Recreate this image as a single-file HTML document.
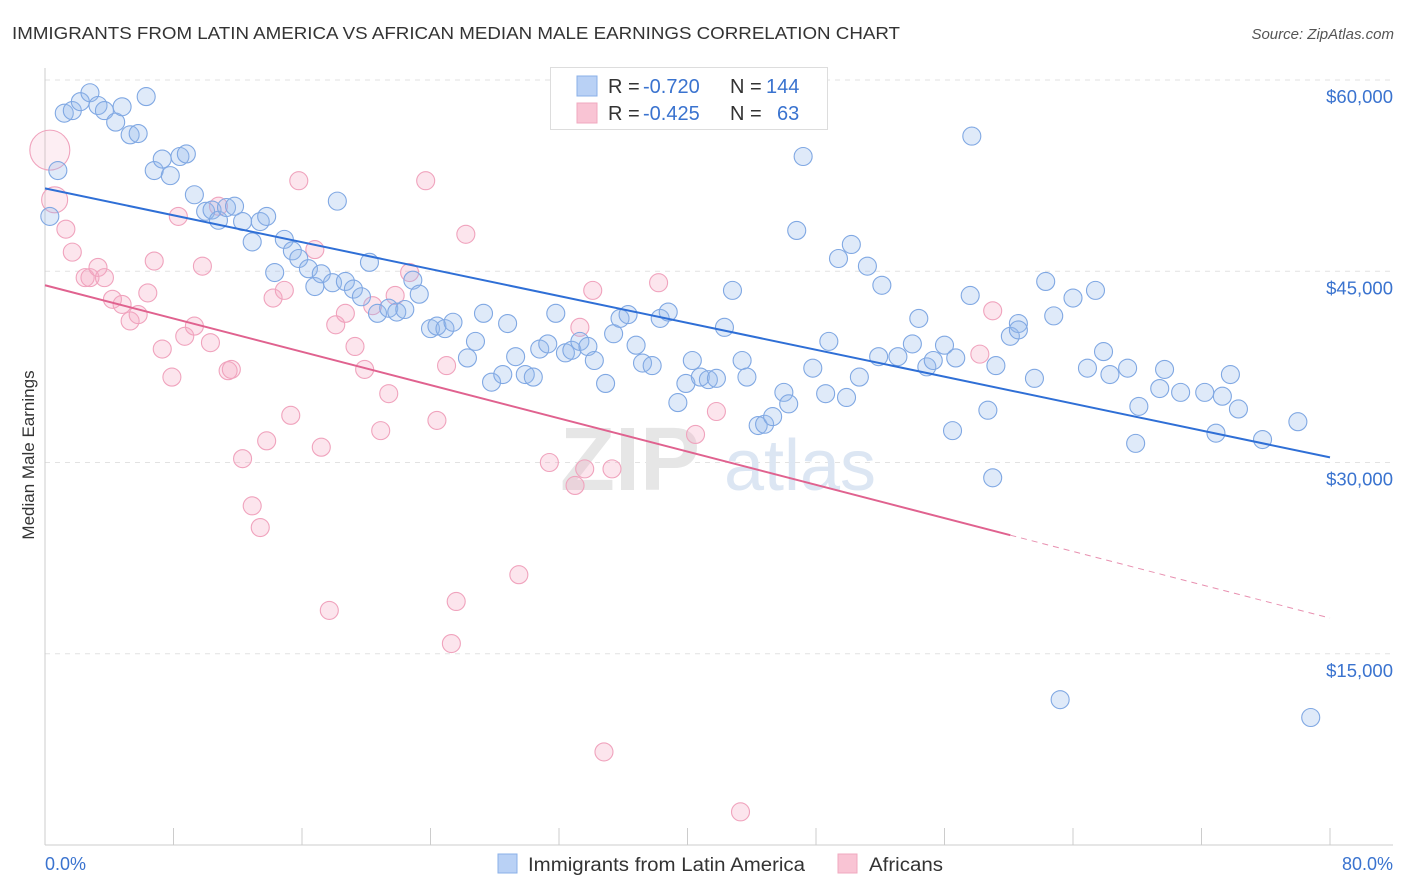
<!DOCTYPE html>
<html><head><meta charset="utf-8">
<style>
body{margin:0;background:#fff;font-family:"Liberation Sans",sans-serif;}
#wrap{position:relative;width:1406px;height:892px;overflow:hidden;}
svg text{font-family:"Liberation Sans",sans-serif;}
</style></head>
<body>
<div id="wrap">
<svg id="chart" width="1406" height="892">
  <text x="12" y="39" font-size="17.5" fill="#333" textLength="888" lengthAdjust="spacingAndGlyphs">IMMIGRANTS FROM LATIN AMERICA VS AFRICAN MEDIAN MALE EARNINGS CORRELATION CHART</text>
  <text x="1394" y="39" font-size="15" fill="#555" font-style="italic" text-anchor="end">Source: ZipAtlas.com</text>
  <text x="0" y="0" font-size="17" fill="#333" text-anchor="middle" transform="translate(34,455) rotate(-90)">Median Male Earnings</text>
  <g id="grid"></g>
  <g>
    <text x="630" y="490" font-size="90" fill="#e6e6e6" font-family="Liberation Serif" text-anchor="middle" font-weight="bold">ZIP</text>
    <text x="800" y="490" font-size="72" fill="#dce6f3" text-anchor="middle">atlas</text>
  </g>
  <g id="axes"></g>
  <g id="pinkPts"></g>
  <g id="bluePts"></g>
  <g id="trends"></g>
  <g>
    <rect x="550.5" y="67.5" width="277" height="62" fill="#fff" stroke="#ddd"/>
    <rect x="577" y="76" width="20" height="20" fill="#b9d1f5" stroke="#8ab0e8"/>
    <rect x="577" y="103" width="20" height="20" fill="#f9c4d4" stroke="#f0a9bf"/>
    <text x="608" y="93" font-size="20" fill="#333">R =</text>
    <text x="643" y="93" font-size="20" fill="#3a73cf">-0.720</text>
    <text x="730" y="93" font-size="20" fill="#333">N =</text>
    <text x="766" y="93" font-size="20" fill="#3a73cf">144</text>
    <text x="608" y="120" font-size="20" fill="#333">R =</text>
    <text x="643" y="120" font-size="20" fill="#3a73cf">-0.425</text>
    <text x="730" y="120" font-size="20" fill="#333">N =</text>
    <text x="777" y="120" font-size="20" fill="#3a73cf">63</text>
  </g>
  <g>
    <rect x="498" y="854" width="19" height="19" fill="#b9d1f5" stroke="#8ab0e8"/>
    <text x="528" y="871" font-size="19" fill="#333" textLength="277" lengthAdjust="spacingAndGlyphs">Immigrants from Latin America</text>
    <rect x="838" y="854" width="19" height="19" fill="#f9c4d4" stroke="#f0a9bf"/>
    <text x="869" y="871" font-size="19" fill="#333" textLength="74" lengthAdjust="spacingAndGlyphs">Africans</text>
  </g>
  <text x="45" y="870" font-size="18" fill="#3a73cf">0.0%</text>
  <text x="1393" y="870" font-size="18" fill="#3a73cf" text-anchor="end">80.0%</text>
</svg>
</div>
<script>
const yTicks=[15000,30000,45000,60000];
const yTickLabels=["$15,000","$30,000","$45,000","$60,000"];
const xTicks=[0,8,16,24,32,40,48,56,64,72,80];
const blueX=[0.3,0.8,1.2,1.7,2.2,2.8,3.3,3.7,4.4,4.8,5.3,5.8,6.3,6.8,7.3,7.8,8.4,8.8,9.3,10.0,10.4,10.8,11.3,11.8,12.3,12.9,13.4,13.8,14.3,14.9,15.4,15.8,16.4,16.8,17.2,17.9,18.2,18.7,19.2,19.7,20.2,20.7,21.4,21.9,22.4,22.9,23.3,24.0,24.4,24.9,25.4,26.3,26.8,27.3,27.8,28.5,28.8,29.3,29.9,30.4,30.8,31.3,31.8,32.4,32.8,33.3,33.8,34.2,34.9,35.4,35.8,36.3,36.8,37.2,37.8,38.3,38.8,39.4,39.9,40.3,40.8,41.3,41.8,42.3,42.8,43.4,43.7,44.4,44.8,45.3,46.0,46.3,46.8,47.2,47.8,48.6,48.8,49.4,49.9,50.2,50.7,51.2,52.1,51.9,53.1,54.0,54.4,54.9,55.3,56.0,56.5,56.7,57.6,57.7,58.7,59.0,59.2,60.1,60.6,60.6,61.6,62.3,62.8,64.0,64.9,65.4,65.9,66.3,67.4,68.1,67.9,69.4,69.7,70.7,72.2,73.3,73.8,74.3,72.9,75.8,78.0,63.2,78.8];
const blueY=[49.3,52.9,57.4,57.6,58.3,59.0,58.0,57.6,56.7,57.9,55.7,55.8,58.7,52.9,53.8,52.5,54.0,54.2,51.0,49.7,49.8,49.0,50.0,50.1,48.9,47.3,48.9,49.3,44.9,47.5,46.6,46.0,45.2,43.8,44.8,44.1,50.5,44.2,43.6,43.0,45.7,41.7,42.1,41.8,42.0,44.3,43.2,40.5,40.7,40.5,41.0,38.2,39.5,41.7,36.3,36.9,40.9,38.3,36.9,36.7,38.9,39.3,41.7,38.6,38.8,39.5,39.1,38.0,36.2,40.1,41.3,41.6,39.2,37.8,37.6,41.3,41.8,34.7,36.2,38.0,36.7,36.5,36.6,40.6,43.5,38.0,36.7,32.9,33.0,33.6,35.5,34.6,48.2,54.0,37.4,35.4,39.5,46.0,35.1,47.1,36.7,45.4,43.9,38.3,38.3,39.3,41.3,37.5,38.0,39.2,32.5,38.2,43.1,55.6,34.1,28.8,37.6,39.9,40.9,40.4,36.6,44.2,41.5,42.9,37.4,43.5,38.7,36.9,37.4,34.4,31.5,35.8,37.3,35.5,35.5,35.2,36.9,34.2,32.3,31.8,33.2,11.4,10.0];
const pinkX=[0.3,0.6,1.3,1.7,2.5,2.8,3.3,3.7,4.2,4.8,5.3,5.8,6.4,6.8,7.3,7.9,8.3,8.7,9.3,9.8,10.3,10.8,11.4,11.6,12.3,12.9,13.4,13.8,14.2,14.9,15.3,15.8,16.8,17.2,17.7,18.1,18.7,19.3,19.9,20.4,20.9,21.4,21.8,22.7,23.7,24.4,25.0,25.3,25.6,26.2,29.5,31.4,33.0,33.3,33.6,34.1,34.8,35.3,38.2,40.5,41.8,43.3,59.0,58.2];
const pinkY=[54.5,50.6,48.3,46.5,44.5,44.5,45.3,44.5,42.8,42.4,41.1,41.6,43.3,45.8,38.9,36.7,49.3,39.9,40.7,45.4,39.4,50.1,37.2,37.3,30.3,26.6,24.9,31.7,42.9,43.5,33.7,52.1,46.7,31.2,18.4,40.8,41.7,39.1,37.3,42.3,32.5,35.4,43.1,44.9,52.1,33.3,37.6,15.8,19.1,47.9,21.2,30.0,28.2,40.6,29.5,43.5,7.3,29.5,44.1,32.2,34.0,2.6,41.9,38.5];
const blueTrend=[[0,51.5],[80,30.4]];
const pinkTrend=[[0,43.9],[60.1,24.3]];
const pinkTrendExt=[[60.1,24.3],[80,17.8]];

const NS="http://www.w3.org/2000/svg";
const X0=45,X1=1330,Y0=845,YTOP=80;
function xs(v){return X0+(X1-X0)*v/80;}
function ys(k){return Y0-(Y0-YTOP)*k/60;}
function mk(tag,attrs,parent){const e=document.createElementNS(NS,tag);for(const k in attrs)e.setAttribute(k,attrs[k]);parent.appendChild(e);return e;}

const grid=document.getElementById('grid');
yTicks.forEach((t,i)=>{
  const l=mk('line',{x1:X0,x2:1393,y1:ys(t/1000),y2:ys(t/1000),stroke:'#e2e2e2','stroke-dasharray':'5,5'},grid);
  
  
  const tx=mk('text',{x:1393,y:ys(t/1000)+23,'font-size':18.5,fill:'#3a73cf','text-anchor':'end'},grid);
  tx.textContent=yTickLabels[i];
  
  
});
const axes=document.getElementById('axes');
const ya=mk('line',{x1:X0,x2:X0,y1:68,y2:Y0,stroke:'#ccc'},axes);


const xa=mk('line',{x1:X0,x2:1393,y1:Y0,y2:Y0,stroke:'#ccc'},axes);


xTicks.forEach(t=>{
  const l=mk('line',{x1:xs(t),x2:xs(t),y1:828,y2:Y0,stroke:'#ccc'},axes);
  
  
});
function pts(gid,X,Y,fill,stroke,name){
  const g=document.getElementById(gid);
  X.forEach((x,i)=>{
    let r=9;
    let f=fill;
    if(name==='africans-point'&&i===0){r=20;f='rgba(246,170,196,0.2)';}
    if(name==='africans-point'&&i===1){r=13;f='rgba(246,170,196,0.25)';}
    const c=mk('circle',{cx:xs(x),cy:ys(Y[i]),r:r,fill:f,stroke:stroke,'stroke-width':1.1},g);
    
    
  });
}
pts('pinkPts',pinkX,pinkY,'rgba(246,170,196,0.3)','#f0a3bd','africans-point');
pts('bluePts',blueX,blueY,'rgba(150,185,236,0.3)','#80a8e3','latin-america-point');
const tr=document.getElementById('trends');
const bl=mk('line',{x1:xs(blueTrend[0][0]),y1:ys(blueTrend[0][1]),x2:xs(blueTrend[1][0]),y2:ys(blueTrend[1][1]),stroke:'#2f6fd6','stroke-width':2},tr);


const pl=mk('line',{x1:xs(pinkTrend[0][0]),y1:ys(pinkTrend[0][1]),x2:xs(pinkTrend[1][0]),y2:ys(pinkTrend[1][1]),stroke:'#e0628f','stroke-width':2},tr);


const pe=mk('line',{x1:xs(pinkTrendExt[0][0]),y1:ys(pinkTrendExt[0][1]),x2:xs(pinkTrendExt[1][0]),y2:ys(pinkTrendExt[1][1]),stroke:'#e890b0','stroke-width':1,'stroke-dasharray':'6,5'},tr);


</script>
</body></html>
